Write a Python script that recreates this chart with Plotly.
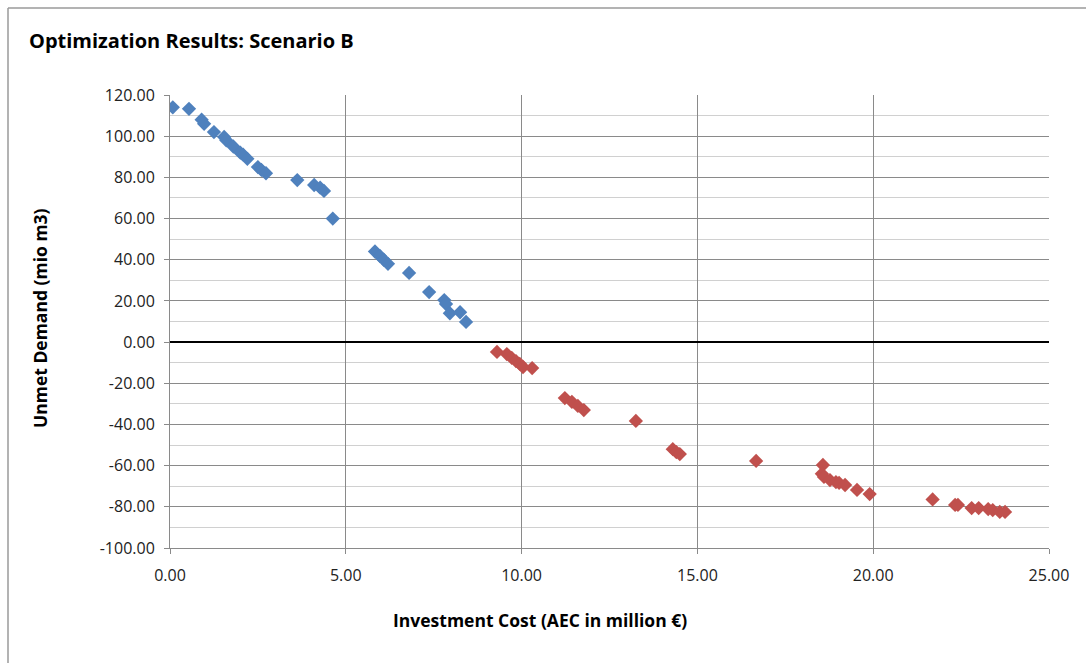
import plotly.graph_objects as go

# Solutions with unmet demand (blue) and with surplus (red)
cost_unmet = [0.08, 0.54, 0.90, 0.97, 1.25, 1.54, 1.60, 1.80, 2.00, 2.08, 2.20,
              2.50, 2.60, 2.73, 3.62, 4.10, 4.27, 4.38, 4.63,
              5.83, 5.97, 6.08, 6.20, 6.80, 7.37, 7.80, 7.85, 7.96, 8.25, 8.42]
demand_unmet = [114.0, 113.3, 108.0, 106.0, 102.0, 99.6, 98.0, 95.0, 92.0, 91.0, 89.0,
                85.0, 83.6, 82.0, 78.7, 76.3, 75.0, 73.4, 60.0,
                44.0, 41.8, 40.0, 38.0, 33.6, 24.3, 20.4, 18.5, 14.0, 14.5, 9.8]

cost_surplus = [9.30, 9.58, 9.72, 9.84, 9.95, 10.04, 10.30,
                11.23, 11.43, 11.60, 11.77, 13.25, 14.30, 14.40, 14.50, 16.67,
                18.57, 18.54, 18.60, 18.77, 18.94, 19.03, 19.20, 19.54, 19.90,
                21.69, 22.33, 22.41, 22.80, 23.00, 23.27, 23.40, 23.60, 23.75]
demand_surplus = [-4.8, -5.8, -7.7, -9.2, -10.6, -12.1, -12.6,
                  -27.2, -29.0, -31.0, -33.0, -38.3, -52.0, -53.4, -54.4, -57.7,
                  -59.7, -64.0, -65.5, -67.0, -68.0, -68.4, -69.4, -71.8, -73.8,
                  -76.4, -79.1, -79.1, -80.6, -80.6, -81.1, -81.6, -82.5, -82.5]

# Axis ticks and their labels (plain hyphen for negatives)
x_ticks = [0, 5, 10, 15, 20, 25]
x_labels = ["0.00", "5.00", "10.00", "15.00", "20.00", "25.00"]
y_ticks = [120, 100, 80, 60, 40, 20, 0, -20, -40, -60, -80, -100]
y_labels = ["120.00", "100.00", "80.00", "60.00", "40.00", "20.00", "0.00",
            "-20.00", "-40.00", "-60.00", "-80.00", "-100.00"]

W, H = 1086, 663
ML, MR, MT, MB = 170, 37, 95, 115
pw, ph = W - ML - MR, H - MT - MB

def px(x):
    return (x - ML) / pw

def py(y):
    return (H - MB - y) / ph

fig = go.Figure()
fig.add_trace(go.Scatter(
    x=cost_unmet, y=demand_unmet, mode="markers",
    marker=dict(symbol="diamond", size=11, color="#4F81BD", line=dict(width=0)),
    showlegend=False))
fig.add_trace(go.Scatter(
    x=cost_surplus, y=demand_surplus, mode="markers",
    marker=dict(symbol="diamond", size=11, color="#C0504D", line=dict(width=0)),
    showlegend=False))

font = "'Open Sans', sans-serif"

fig.update_layout(
    width=W, height=H,
    margin=dict(l=ML, r=MR, t=MT, b=MB),
    paper_bgcolor="white", plot_bgcolor="white",
    font=dict(family=font, size=16, color="#222"),
    xaxis=dict(
        range=[0, 25], tickvals=x_ticks, ticktext=x_labels,
        showgrid=True, gridcolor="#8a8a8a", gridwidth=1,
        zeroline=False, showline=True, linecolor="#8a8a8a", linewidth=1,
        ticks="outside", ticklen=5, tickcolor="#8a8a8a",
        ticklabelstandoff=8,
        tickfont=dict(size=16, color="#222"),
    ),
    yaxis=dict(
        range=[-100, 120], tickvals=y_ticks, ticktext=y_labels,
        showgrid=True, gridcolor="#8a8a8a", gridwidth=1,
        minor=dict(dtick=10, tick0=0, showgrid=True, gridcolor="#d0d0d0", gridwidth=1),
        zeroline=True, zerolinecolor="#000", zerolinewidth=2,
        showline=True, linecolor="#8a8a8a", linewidth=1,
        ticks="outside", ticklen=5, tickcolor="#8a8a8a",
        ticklabelstandoff=6,
        tickfont=dict(size=16, color="#222"),
    ),
    shapes=[
        dict(type="line", xref="paper", yref="paper",
             x0=px(8), x1=px(8), y0=py(H + 5), y1=py(8),
             line=dict(color="#9a9a9a", width=1.5), layer="below"),
        dict(type="line", xref="paper", yref="paper",
             x0=px(8), x1=px(W + 5), y0=py(8), y1=py(8),
             line=dict(color="#9a9a9a", width=1.5), layer="below"),
    ],
    annotations=[
        dict(text="<b>Optimization Results: Scenario B</b>",
             xref="paper", yref="paper", x=px(27), y=py(40),
             xanchor="left", yanchor="middle", showarrow=False,
             font=dict(size=20, color="#000", family=font)),
        dict(text="<b>Investment Cost (AEC in million €)</b>",
             xref="paper", yref="paper", x=px(540), y=py(620),
             xanchor="center", yanchor="middle", showarrow=False,
             font=dict(size=17.5, color="#000", family=font)),
        dict(text="<b>Unmet Demand (mio m3)</b>", textangle=-90,
             xref="paper", yref="paper", x=px(40), y=py(318),
             xanchor="center", yanchor="middle", showarrow=False,
             font=dict(size=17.5, color="#000", family=font)),
    ],
)

fig.write_html("out.html")
